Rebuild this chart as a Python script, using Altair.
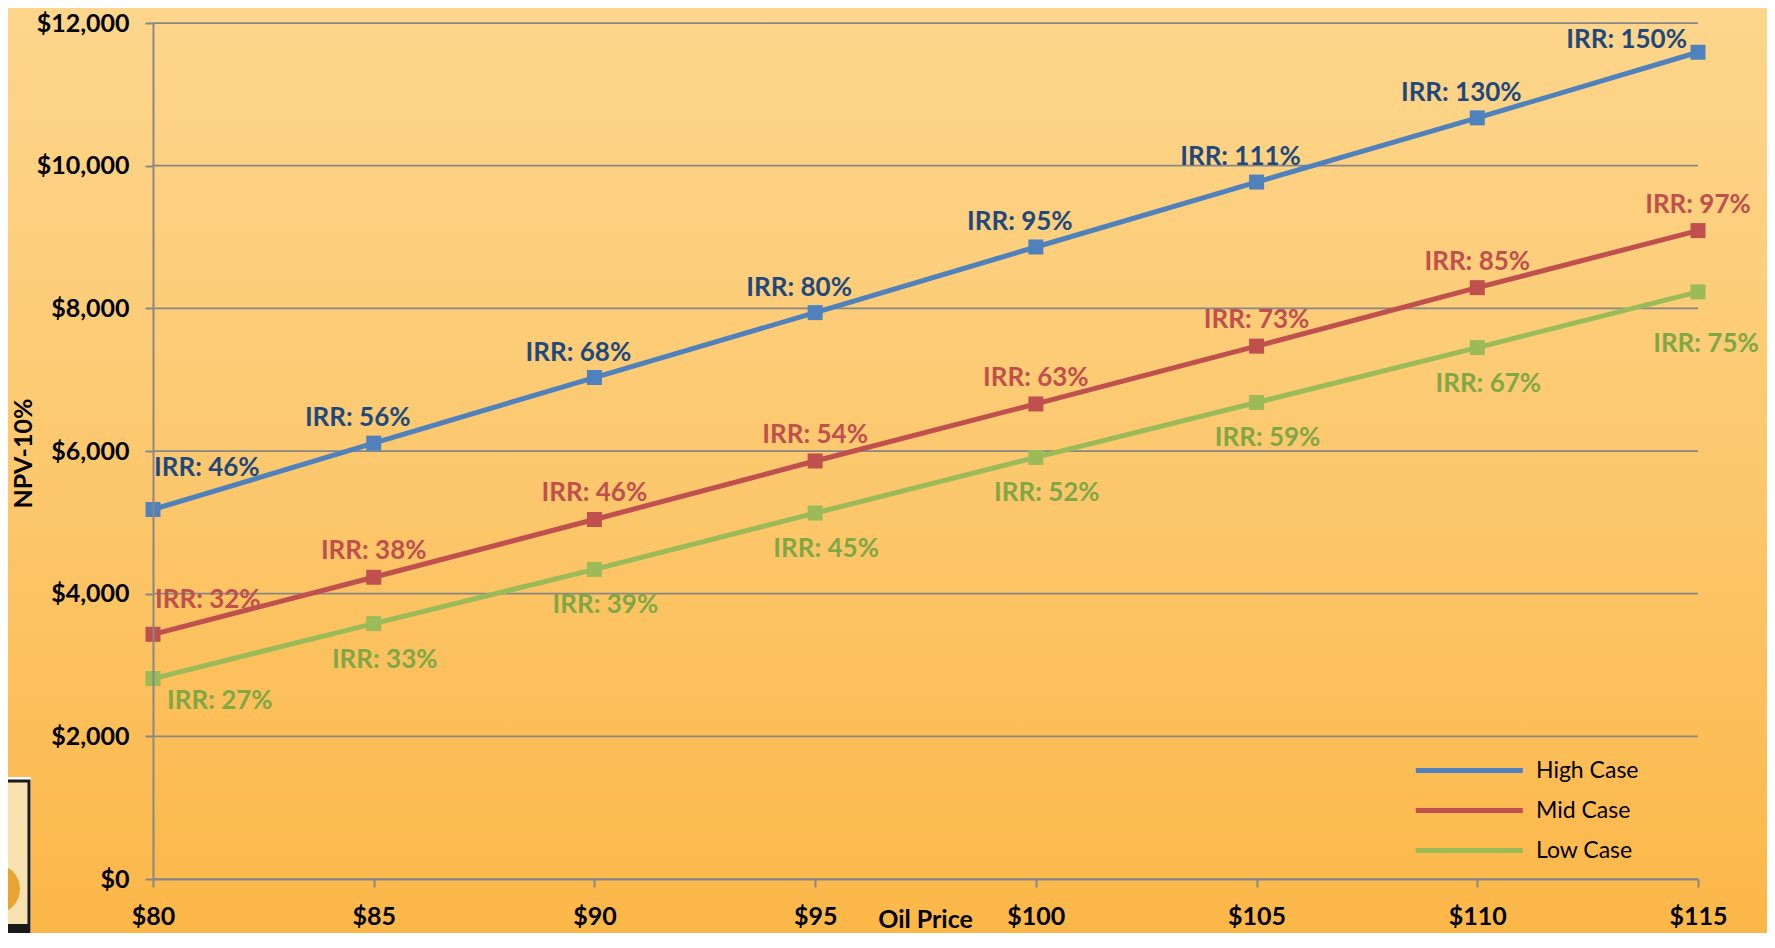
import altair as alt
import pandas as pd

# ---------------- data ----------------
prices = [80, 85, 90, 95, 100, 105, 110, 115]
cases = ["High Case", "Mid Case", "Low Case"]
npv_high = [5180, 6110, 7030, 7940, 8860, 9770, 10670, 11590]
npv_mid = [3430, 4230, 5040, 5860, 6660, 7470, 8290, 9090]
npv_low = [2810, 3580, 4340, 5130, 5910, 6680, 7450, 8230]
irr_high = [46, 56, 68, 80, 95, 111, 130, 150]
irr_mid = [32, 38, 46, 54, 63, 73, 85, 97]
irr_low = [27, 33, 39, 45, 52, 59, 67, 75]
y_ticks = [0, 2000, 4000, 6000, 8000, 10000, 12000]

line_colors = ["#4F81BD", "#C0504D", "#9BBB59"]
label_colors = ["#1F497D", "#C0504D", "#7FA844"]

rows = []
for case, npvs, irrs in zip(cases, [npv_high, npv_mid, npv_low], [irr_high, irr_mid, irr_low]):
    for p, n, r in zip(prices, npvs, irrs):
        rows.append({"price": p, "case": case, "npv": n, "label": f"IRR: {r}%"})
df = pd.DataFrame(rows)
grid_df = pd.DataFrame({"npv": y_ticks})

# ---------------- layout ----------------
W, H = 1545, 856
PAD = {"left": 145, "top": 15, "right": 69, "bottom": 54}
FONT = "Lato"
GRAY = "#878787"

x_enc = alt.X(
    "price:Q",
    scale=alt.Scale(domain=[80, 115], nice=False, zero=False),
    axis=alt.Axis(
        values=prices, labelExpr="'$' + datum.value", title="Oil Price",
        grid=False, labelFlush=False, labelOverlap=False, zindex=1,
        domainColor=GRAY, domainWidth=2, tickColor=GRAY, tickWidth=2, tickSize=8,
        labelFont=FONT, labelFontWeight="bold", labelFontSize=25, labelColor="#000000",
        labelPadding=17,
        titleFont=FONT, titleFontWeight="bold", titleFontSize=25, titleColor="#000000",
        titleX=772, titleY=40, titleBaseline="middle", titleAlign="center",
    ),
)
y_enc = alt.Y(
    "npv:Q",
    scale=alt.Scale(domain=[0, 12000], nice=False),
    axis=alt.Axis(
        values=y_ticks, format="$,.0f", title="NPV-10%",
        grid=False, zindex=1,
        domainColor=GRAY, domainWidth=2, tickColor=GRAY, tickWidth=2, tickSize=8,
        labelFont=FONT, labelFontWeight="bold", labelFontSize=25, labelColor="#000000",
        labelPadding=16,
        titleFont=FONT, titleFontWeight="bold", titleFontSize=25, titleColor="#000000",
        titleAngle=270, titleX=-130, titleY=430, titleAlign="center", titleBaseline="middle",
    ),
)
color_scale = alt.Scale(domain=cases, range=line_colors)

one = pd.DataFrame({"k": [0]})

background = alt.Chart(one).mark_rect(
    fill=alt.LinearGradient(
        gradient="linear",
        stops=[
            alt.GradientStop(color="#FDD68C", offset=0),
            alt.GradientStop(color="#FCC86E", offset=0.5),
            alt.GradientStop(color="#FCB748", offset=1),
        ],
        x1=0, x2=0, y1=0, y2=1,
    )
).encode(
    x=alt.value(-PAD["left"]), x2=alt.value(W + PAD["right"]),
    y=alt.value(-PAD["top"]), y2=alt.value(H + PAD["bottom"]),
)

# horizontal gridlines (drawn as marks so that they sit above the background)
grid = alt.Chart(grid_df).mark_rule(color=GRAY, strokeWidth=1.75).encode(y=y_enc)

# small logo decoration at the bottom-left corner
logo_white = alt.Chart(one).mark_rect(fill="#FFFFFF").encode(
    x=alt.value(-150), x2=alt.value(-122), y=alt.value(754), y2=alt.value(H + 60)
)
logo_frame = alt.Chart(one).mark_rect(fill="#F7E2B0", stroke="#1A1A1A", strokeWidth=3).encode(
    x=alt.value(-150), x2=alt.value(-124), y=alt.value(758), y2=alt.value(H + 60)
)
logo_sun = alt.Chart(one).mark_point(shape="circle", filled=True, size=2500, color="#E9A431", opacity=1).encode(
    x=alt.value(-158), y=alt.value(866)
)
logo_band = alt.Chart(one).mark_rect(fill="#1A1A1A").encode(
    x=alt.value(-150), x2=alt.value(-124), y=alt.value(901), y2=alt.value(912)
)

lines = alt.Chart(df).mark_line(strokeWidth=5).encode(
    x=x_enc, y=y_enc,
    color=alt.Color(
        "case:N", scale=color_scale, sort=cases,
        legend=alt.Legend(
            title=None, orient="none", legendX=1260, legendY=734,
            direction="vertical", padding=0,
            symbolType="M-1,0H9", symbolSize=458, symbolStrokeWidth=5,
            rowPadding=14, labelOffset=96,
            labelFont=FONT, labelFontSize=23, labelColor="#000000",
        ),
    ),
    detail="case:N",
)

points = alt.Chart(df).mark_point(shape="square", filled=True, size=225, opacity=1).encode(
    x=x_enc, y=y_enc,
    color=alt.Color("case:N", scale=color_scale, legend=None),
)


def labels(case, color, cond, align, dx, dy):
    return alt.Chart(df).transform_filter(
        f"datum.case == '{case}' && ({cond})"
    ).mark_text(
        align=align, baseline="middle", dx=dx, dy=dy,
        font=FONT, fontWeight="bold", fontSize=26, color=color,
    ).encode(x=x_enc, y=y_enc, text="label:N")


label_layers = [
    labels(cases[0], label_colors[0], "datum.price == 80", "left", 1, -41),
    labels(cases[0], label_colors[0], "datum.price > 80 && datum.price < 115", "center", -16, -25),
    labels(cases[0], label_colors[0], "datum.price == 115", "right", -11, -12),
    labels(cases[1], label_colors[1], "datum.price == 80", "left", 2, -34),
    labels(cases[1], label_colors[1], "datum.price > 80", "center", 0, -26),
    labels(cases[2], label_colors[2], "datum.price == 80", "left", 14, 22),
    labels(cases[2], label_colors[2], "datum.price > 80 && datum.price < 115", "center", 11, 36),
    labels(cases[2], label_colors[2], "datum.price == 115", "center", 8, 52),
]

chart = alt.layer(
    background, grid, logo_white, logo_frame, logo_sun, logo_band, lines, points, *label_layers
).properties(
    width=W, height=H, padding=PAD, autosize=alt.AutoSizeParams(type="none"),
).configure_view(stroke=None)

chart.save("out.html", embed_options={"renderer": "svg", "actions": False})
